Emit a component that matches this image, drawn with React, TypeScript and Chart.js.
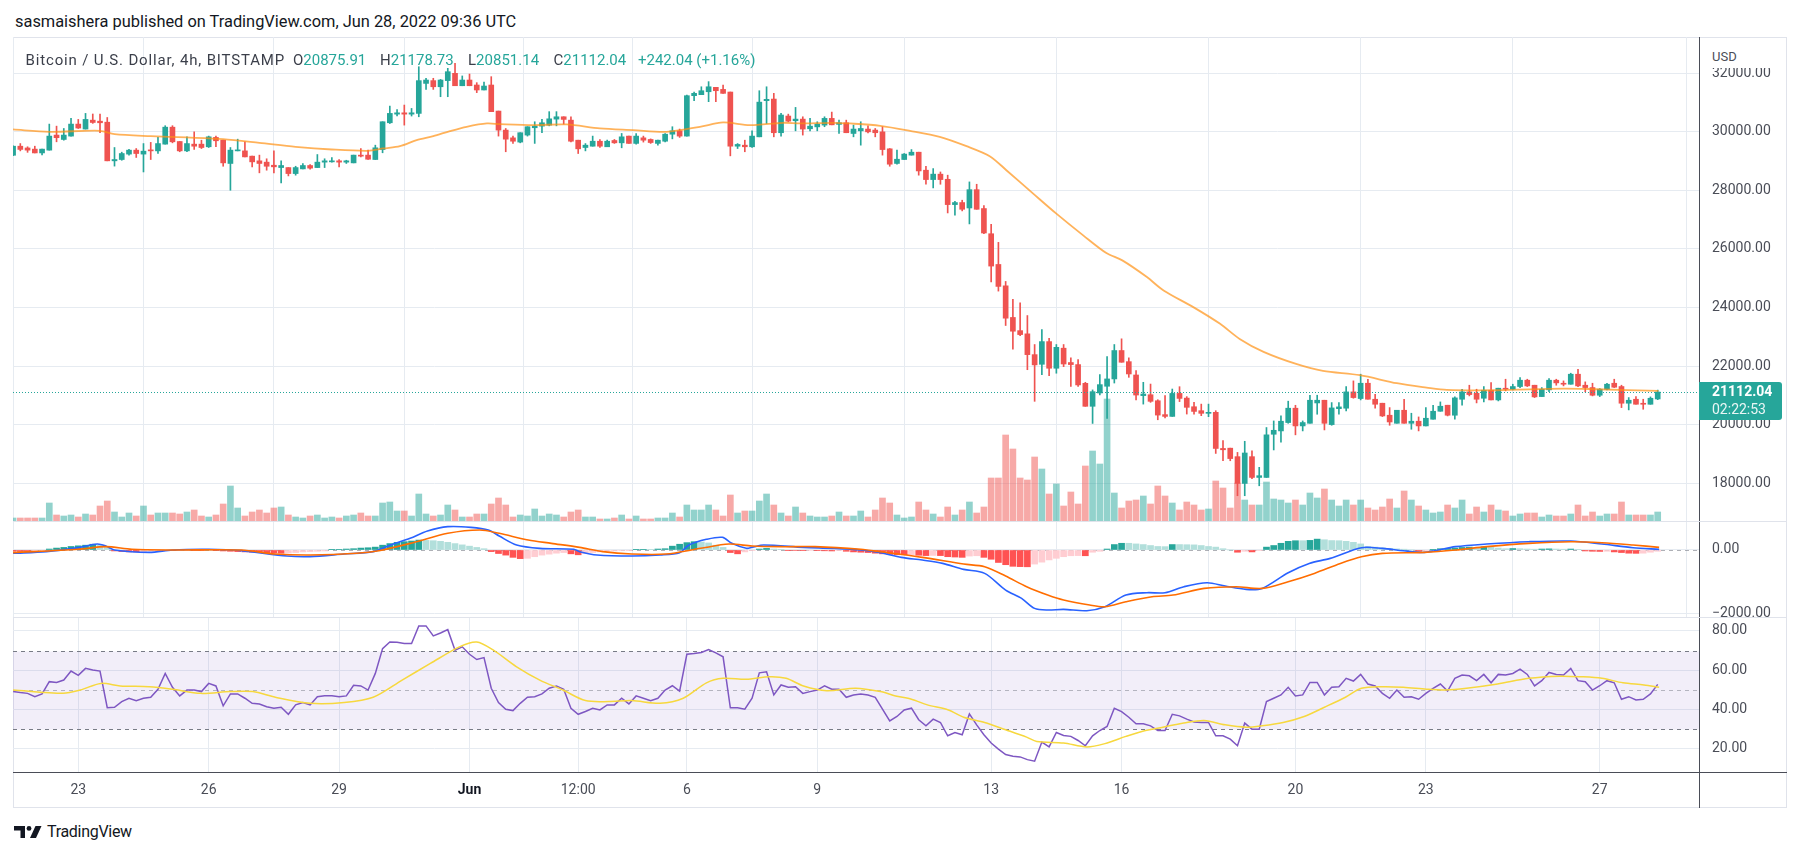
import React, { useEffect, useRef } from 'react';
import { Chart, registerables } from 'chart.js';

Chart.register(...registerables);

const FONT = 'Roboto, "Noto Sans", "DejaVu Sans", sans-serif';
const UP = '#26a69a';
const DOWN = '#ef5350';
const UP_VOL = 'rgba(38,166,154,0.5)';
const DOWN_VOL = 'rgba(239,83,80,0.5)';
const GRID = '#e6ebf1';
const FRAME = '#e0e3eb';
const AXIS_LINE = '#4a4d57';
const TEXT = '#4a4d57';

// ---------------- data ----------------
// 4h bars of BTC/USD (Bitstamp). Bar index 0 = 23 May 2022 00:00; first bar = 21 May 12:00
const START_INDEX = -9;

const xTickIdx = [0, 18, 36, 54, 69, 84, 102, 126, 144, 168, 186, 210];
const xTickLabels = ['23', '26', '29', 'Jun', '12:00', '6', '9', '13', '16', '20', '23', '27'];

const priceTicks = [18000, 20000, 22000, 24000, 26000, 28000, 30000, 32000];
const macdTicks = [0, -2000];
const rsiTicks = [20, 40, 60, 80];

const openArr = [
  29200, 29510, 29450, 29410, 29280, 29375, 29890, 29740, 29855, 30265,
  30095, 30400, 30365, 30330, 29010, 29055, 29240, 29375, 29240, 29375,
  29350, 29580, 30160, 29670, 29350, 29580, 29580, 29490, 29810, 29715,
  28920, 29350, 29350, 29170, 29010, 28965, 28860, 28780, 28780, 28575,
  28735, 28850, 28780, 28965, 28975, 29010, 28965, 28940, 29205, 29205,
  29055, 29395, 30310, 30605, 30650, 30605, 30630, 31655, 31750, 31540,
  31750, 32000, 31575, 31770, 31600, 31430, 31600, 30710, 30060, 29795,
  29650, 29890, 30140, 30195, 30230, 30435, 30515, 30400, 29715, 29465,
  29510, 29680, 29490, 29705, 29625, 29855, 29605, 29795, 29740, 29605,
  29680, 29920, 30035, 29855, 31235, 31270, 31370, 31520, 31450, 31360,
  29510, 29545, 29490, 29830, 31065, 31120, 29970, 30540, 30380, 30435,
  30105, 30170, 30230, 30460, 30255, 30310, 29945, 30035, 30095, 30060,
  30000, 29420, 28920, 29055, 29205, 29305, 28690, 28370, 28555, 28380,
  27515, 27585, 27400, 28025, 27380, 26520, 25470, 24740, 23660, 23210,
  23100, 22390, 22060, 22835, 21925, 22610, 22120, 22050, 21410, 20625,
  21080, 21310, 21560, 22530, 22150, 21695, 20990, 21020, 20815, 20340,
  20280, 21065, 20905, 20610, 20475, 20385, 20420, 19185, 19195, 18905,
  17990, 18905, 18195, 18195, 19670, 19784, 20070, 20560, 19955, 20045,
  20740, 20832, 20000, 20545, 20560, 21117, 20890, 21413, 20866, 20730,
  20320, 20045, 20490, 20045, 20115, 19955, 20183, 20456, 20662, 20320,
  20866, 21117, 21071, 20900, 21174, 20843, 21231, 21208, 21300, 21516,
  21345, 20957, 21186, 21516, 21413, 21379, 21721, 21345, 21265, 21003,
  21208, 21413, 21300, 20730, 20866, 20718, 20695, 20875.91,
];
const highArr = [
  29520, 29600, 29490, 29510, 29410, 30265, 30195, 30115, 30460, 30425,
  30630, 30610, 30610, 30490, 29465, 29305, 29400, 29430, 29600, 29640,
  29810, 30210, 30210, 29670, 29830, 30000, 29715, 29855, 29855, 29715,
  29465, 29750, 29660, 29170, 29205, 29080, 29350, 29010, 28780, 28825,
  28915, 28885, 29225, 29080, 29125, 29055, 29030, 29205, 29430, 29375,
  29545, 30345, 30880, 30765, 30915, 30800, 32225, 31830, 31830, 31790,
  32170, 32340, 31910, 31975, 31680, 31700, 31885, 30710, 30115, 29855,
  29970, 30175, 30345, 30425, 30690, 30690, 30515, 30515, 29715, 29600,
  29855, 29740, 29715, 29740, 29945, 29855, 29945, 29855, 29760, 29715,
  29945, 30175, 30095, 31260, 31360, 31540, 31715, 31520, 31600, 31360,
  29600, 29715, 30035, 31405, 31540, 31315, 30630, 30605, 30835, 30515,
  30460, 30345, 30515, 30675, 30400, 30400, 30230, 30345, 30205, 30115,
  30175, 29430, 29375, 29260, 29395, 29305, 28825, 28745, 28630, 28520,
  27630, 27665, 28290, 28210, 27480, 26840, 26225, 24890, 24275, 24160,
  23725, 22735, 23245, 22950, 22735, 22735, 22280, 22220, 21445, 21185,
  21705, 22320, 22735, 22930, 22280, 21845, 21445, 21385, 20850, 20990,
  21215, 21295, 20955, 20760, 20700, 20700, 20475, 19450, 19195, 19050,
  19430, 19100, 18540, 19900, 20125, 20300, 20800, 20660, 20125, 21003,
  21003, 20832, 20752, 20752, 21299, 21493, 21721, 21550, 21037, 20730,
  20581, 20490, 20866, 20388, 20262, 20581, 20661, 20775, 20661, 20946,
  21208, 21345, 21208, 21299, 21436, 21243, 21550, 21379, 21607, 21550,
  21345, 21265, 21573, 21550, 21493, 21755, 21892, 21459, 21413, 21231,
  21413, 21550, 21345, 20923, 20957, 20866, 20946, 21178.73,
];
const lowArr = [
  29190, 29350, 29300, 29280, 29215, 29375, 29660, 29715, 29855, 30115,
  30095, 30290, 29970, 29010, 28830, 29030, 29200, 29125, 28630, 29055,
  29260, 29580, 29625, 29320, 29320, 29400, 29430, 29465, 29490, 28825,
  28005, 29350, 29145, 28800, 28600, 28690, 28600, 28255, 28495, 28520,
  28735, 28725, 28780, 28780, 28965, 28805, 28920, 28940, 29145, 29055,
  29055, 29285, 30285, 30540, 30230, 30540, 30515, 31450, 31450, 31200,
  31200, 31575, 31575, 31575, 31340, 31430, 30690, 29855, 29320, 29605,
  29625, 29855, 29605, 29970, 30205, 30205, 30265, 29660, 29260, 29350,
  29510, 29465, 29490, 29605, 29455, 29605, 29580, 29650, 29605, 29545,
  29660, 29760, 29810, 29855, 31065, 31270, 31030, 31030, 31315, 29180,
  29430, 29320, 29465, 29830, 30285, 29830, 29855, 30345, 30035, 29890,
  30035, 30035, 30175, 30240, 29945, 29970, 29830, 29545, 29965, 29830,
  29205, 28825, 28895, 29055, 29205, 28520, 28210, 28085, 28210, 27230,
  27150, 27300, 26855, 27355, 26520, 24870, 24560, 23385, 22575, 23040,
  21875, 20795, 21705, 21675, 21755, 21980, 21305, 21305, 20625, 20040,
  21010, 20210, 21420, 22130, 21615, 20840, 20700, 20760, 20165, 20225,
  20280, 20785, 20360, 20360, 20305, 20270, 19015, 18765, 18765, 17570,
  17570, 18150, 17910, 18195, 19134, 19400, 20045, 19650, 19784, 20045,
  20354, 19818, 19977, 20354, 20467, 20900, 20843, 20866, 20559, 20274,
  19977, 20045, 20045, 19841, 19784, 19955, 20183, 20456, 20296, 20183,
  20661, 20980, 20741, 20775, 20843, 20809, 21151, 21185, 21265, 21299,
  20923, 20957, 21129, 21345, 21322, 21379, 21299, 21117, 20980, 20957,
  21185, 21265, 20581, 20502, 20695, 20524, 20695, 20851.14,
];
const closeArr = [
  29510, 29400, 29375, 29280, 29410, 29855, 29800, 29890, 30265, 30130,
  30425, 30320, 30310, 29010, 29055, 29260, 29375, 29260, 29340, 29350,
  29600, 30160, 29660, 29350, 29600, 29510, 29465, 29830, 29695, 28940,
  29375, 29375, 29145, 28975, 28920, 28825, 28805, 28850, 28575, 28780,
  28850, 28760, 28965, 29010, 29010, 28965, 29010, 29205, 29170, 29065,
  29455, 30345, 30630, 30650, 30605, 30650, 31750, 31770, 31540, 31770,
  32055, 31575, 31770, 31575, 31430, 31565, 30690, 30060, 29750, 29680,
  29970, 30175, 30195, 30310, 30445, 30515, 30425, 29680, 29420, 29545,
  29680, 29510, 29680, 29625, 29830, 29605, 29855, 29715, 29635, 29715,
  29920, 30035, 29855, 31235, 31315, 31405, 31540, 31405, 31315, 29510,
  29570, 29490, 29855, 31015, 31110, 29970, 30575, 30365, 30435, 30095,
  30195, 30265, 30460, 30240, 30310, 29970, 30095, 30115, 30000, 29970,
  29395, 28895, 29065, 29240, 29305, 28665, 28370, 28555, 28370, 27515,
  27585, 27355, 28025, 27355, 26545, 25415, 24720, 23635, 23190, 23075,
  22390, 22040, 22835, 21925, 22640, 22070, 22050, 21355, 20625, 21125,
  21365, 21560, 22530, 22130, 21730, 21010, 21045, 20795, 20325, 20280,
  21065, 20895, 20590, 20450, 20385, 20420, 19185, 19140, 18840, 17990,
  19030, 18195, 18255, 19650, 19806, 20115, 20560, 19955, 20070, 20832,
  20832, 20045, 20570, 20605, 21117, 20923, 21413, 20866, 20695, 20296,
  20090, 20490, 20045, 20115, 19955, 20217, 20456, 20627, 20320, 20912,
  21117, 21026, 20866, 21174, 20843, 21243, 21208, 21300, 21516, 21322,
  20946, 21208, 21516, 21425, 21379, 21721, 21322, 21265, 21003, 21208,
  21379, 21277, 20730, 20832, 20695, 20695, 20900, 21112.04,
];
const volumeArr = [
  300, 300, 300, 300, 300, 1800, 600, 500, 600, 400,
  700, 600, 1500, 2000, 900, 400, 800, 500, 1500, 600,
  800, 800, 800, 700, 900, 1100, 500, 400, 600, 1700,
  3500, 1300, 500, 900, 1100, 800, 1300, 1400, 600, 400,
  300, 500, 600, 300, 400, 300, 500, 600, 800, 500,
  500, 1800, 1900, 1000, 1000, 500, 2700, 700, 500, 600,
  1600, 1100, 400, 400, 700, 700, 1700, 2300, 1600, 400,
  600, 500, 1200, 500, 700, 600, 400, 900, 1100, 400,
  400, 200, 200, 300, 600, 200, 500, 200, 200, 300,
  300, 800, 400, 1600, 1100, 1100, 1600, 1100, 500, 2600,
  800, 1000, 1000, 2000, 2700, 1600, 800, 500, 1400, 800,
  500, 400, 400, 500, 900, 500, 500, 1000, 400, 1100,
  2300, 1800, 600, 300, 400, 1900, 1100, 700, 400, 1400,
  600, 1100, 1900, 800, 1400, 4300, 4300, 8600, 7200, 4300,
  4100, 6400, 5200, 2700, 3700, 1500, 2900, 1700, 5500, 7000,
  5700, 12200, 2800, 1300, 2000, 2100, 2500, 1700, 3500, 2500,
  1800, 1100, 1900, 1600, 1100, 1200, 4000, 3300, 1300, 3800,
  2100, 1600, 1600, 3900, 2200, 2100, 1800, 2100, 1600, 2800,
  2300, 3200, 2100, 1500, 2100, 1600, 2100, 1300, 1100, 1400,
  2200, 1300, 3000, 2100, 1500, 1100, 800, 900, 1600, 1300,
  2100, 700, 1400, 900, 1600, 1100, 1000, 500, 700, 800,
  800, 400, 600, 500, 500, 700, 1600, 500, 900, 500,
  700, 700, 1900, 600, 600, 600, 600, 900,
];

// moving average on price (read at sample bars)
const maIdx = [-9, -4, 3, 5, 10, 15, 20, 25, 30, 35, 40, 42.1, 44.4, 46.7, 49, 51.3, 53.6, 56.4, 58.2, 62.8, 67.4, 72, 76.6, 81.2, 85.8, 89, 92.7, 97.3, 99.6, 104.2, 106.5, 110.7, 114.8, 118.9, 122.6, 125.8, 128.1, 131.8, 135, 138.7, 141.9, 144.1, 147.5, 149.8, 153.9, 157.6, 160.3, 163.6, 168.2, 171.8, 176.9, 182, 186.1, 188.9, 195.8, 205, 209.6, 218.1];
const maVal = [30082, 30002, 30036, 29922, 29854, 29808, 29751, 29625, 29489, 29397, 29352, 29432, 29511, 29717, 29854, 30025, 30173, 30287, 30264, 30230, 30253, 30116, 30059, 30002, 30173, 30321, 30230, 30310, 30287, 30310, 30287, 30207, 30036, 29831, 29511, 29169, 28690, 27891, 27206, 26465, 25860, 25609, 25039, 24582, 24012, 23441, 22928, 22484, 22063, 21835, 21687, 21413, 21265, 21185, 21174, 21231, 21208, 21151];

// MACD (12, 26, 9)
const macdIdx = [-9, -4.4, 0, 2.6, 3.8, 5, 9.8, 13, 18, 22.5, 28.8, 32, 36.7, 40.7, 43.1, 45.8, 48.2, 51, 54.2, 56.6, 58.1, 60.5, 63.7, 68.4, 69.2, 71.6, 76.4, 80.3, 83, 84.3, 86.7, 88.9, 90.2, 92.2, 93, 94.6, 100.1, 104.1, 108, 110.7, 113.6, 116.5, 119.3, 122.2, 125.1, 128, 130.2, 132, 133.8, 136, 139.2, 141.7, 144.6, 147.5, 150, 152.6, 155.8, 158.3, 161.2, 163.4, 167, 169.9, 172.8, 177.1, 180, 182.9, 185.8, 190.1, 194.4, 200.2, 206, 210.3, 214.6, 218.2];
const macdVal = [-104, -52, 73, 188, 125, 0, -73, 0, 21, -21, -188, -208, -125, -52, 156, 365, 594, 729, 708, 625, 437, 156, 52, 21, -52, -156, -188, -156, -83, 156, 333, 396, 208, 52, 83, 156, 83, 52, 0, -85, -231, -315, -419, -606, -731, -1252, -1512, -1825, -1877, -1856, -1898, -1773, -1408, -1335, -1335, -1148, -1023, -1127, -1231, -1200, -710, -419, -262, 72, 51, -22, -74, 104, 187, 259, 280, 187, 72, 20];
const signalIdx = [-9, 0, 3.8, 7.4, 13, 22.5, 27.2, 32, 38.4, 41.5, 46.2, 51, 55.4, 58.1, 62.1, 65.3, 69.2, 72.4, 76.4, 81.1, 85.9, 89.8, 93, 97, 101.7, 108, 110.7, 116.5, 122.2, 125.1, 128, 130.9, 133.8, 136, 139.6, 141.7, 144.6, 148.2, 151.1, 155.4, 159.8, 163.4, 167, 170.6, 174.2, 177.1, 180, 185.8, 190.1, 194.4, 200.2, 206, 210.3, 214.6, 218.2];
const signalVal = [-83, 21, 104, 21, 0, 0, -125, -156, -104, -21, 229, 521, 625, 521, 312, 208, 83, -52, -125, -125, 52, 185, 125, 104, 104, 21, -54, -231, -440, -523, -815, -1148, -1408, -1564, -1720, -1773, -1617, -1460, -1408, -1200, -1148, -1200, -991, -731, -419, -210, -106, -74, -2, 104, 207, 259, 228, 156, 83];
const histArr = [
  -40, -45, -50, -40, -20, 30, 60, 80, 110, 130,
  150, 180, 150, 80, -30, -50, -60, -60, -50, -30,
  -20, -10, -15, -10, -5, -10, -10, 5, -10, -30,
  -40, -50, -60, -70, -80, -85, -90, -100, -95, -80,
  -60, -50, -40, -30, 10, 20, 30, 40, 60, 70,
  90, 150, 200, 240, 260, 280, 310, 300, 290, 270,
  240, 200, 160, 120, 80, 40, -50, -110, -160, -230,
  -270, -260, -210, -160, -130, -100, -80, -120, -150, -110,
  -80, -60, -40, -30, -20, -10, 10, 20, 20, 30,
  40, 120, 180, 230, 260, 250, 220, 150, 80, -80,
  -120, -60, -20, 30, 50, 30, 10, -10, -15, -20,
  -15, -20, -25, -30, -20, -40, -60, -70, -80, -100,
  -120, -140, -150, -150, -145, -165, -175, -170, -175, -210,
  -220, -230, -190, -180, -230, -290, -390, -460, -510, -520,
  -525, -440, -380, -310, -260, -210, -180, -175, -180, -70,
  -40, 30, 170, 210, 210, 190, 170, 140, 110, 105,
  170, 170, 165, 160, 140, 110, 90, 40, 0, -70,
  -40, -60, -20, 90, 140, 210, 270, 290, 290, 300,
  340, 320, 295, 290, 270, 240, 190, 110, 90, 70,
  45, 35, 25, 0, -40, -20, 10, 40, 50, 60,
  80, 90, 80, 100, 85, 60, 40, 45, 40, 30,
  25, 30, 35, 30, 25, 30, 20, -30, -40, -45,
  -40, -60, -80, -100, -105, -100, -70, -40,
];

// RSI (14) and its moving average
const rsiArr = [
  49.0, 48.5, 48.1, 46.4, 47.8, 54.1, 53.7, 54.9, 59.5, 57.3,
  60.9, 60.0, 59.5, 40.8, 41.0, 43.9, 45.6, 44.4, 45.6, 46.1,
  50.2, 58.3, 51.2, 46.8, 49.8, 49.8, 49.0, 53.2, 51.9, 41.7,
  47.8, 47.8, 45.6, 43.0, 42.7, 41.3, 40.5, 41.0, 37.4, 42.2,
  43.4, 42.2, 46.4, 46.9, 46.9, 46.4, 46.8, 52.2, 51.9, 49.8,
  58.3, 71.0, 74.4, 74.2, 73.6, 73.6, 82.6, 82.6, 77.5, 79.0,
  80.7, 70.2, 71.9, 68.1, 65.4, 66.4, 50.7, 43.4, 40.0, 39.3,
  43.0, 46.1, 46.4, 47.8, 50.7, 51.9, 50.2, 40.5, 37.4, 38.8,
  40.5, 39.6, 42.2, 42.2, 45.6, 42.7, 46.8, 45.6, 44.4, 45.6,
  49.8, 52.0, 49.2, 68.1, 68.5, 69.0, 70.5, 68.8, 66.8, 40.7,
  40.7, 40.0, 45.6, 58.6, 59.1, 47.3, 52.4, 51.2, 51.5, 48.1,
  49.0, 49.8, 51.9, 50.2, 50.2, 46.1, 47.3, 47.8, 47.3, 46.1,
  40.0, 34.0, 36.3, 39.6, 40.5, 34.6, 31.5, 34.9, 33.2, 26.4,
  28.1, 26.9, 37.6, 32.0, 26.9, 22.7, 19.6, 16.8, 15.9, 15.6,
  14.2, 13.4, 23.2, 20.7, 28.1, 26.6, 26.1, 24.0, 21.3, 26.4,
  29.1, 31.2, 40.5, 38.8, 35.9, 32.5, 32.5, 31.5, 29.1, 29.1,
  37.4, 36.6, 34.9, 33.5, 33.2, 33.2, 26.4, 26.4, 24.7, 21.3,
  32.9, 29.8, 29.8, 43.9, 45.6, 47.3, 51.2, 46.8, 47.3, 53.7,
  53.7, 47.3, 51.2, 51.5, 55.8, 54.4, 57.8, 52.9, 51.9, 48.1,
  45.6, 49.8, 46.1, 46.4, 45.1, 48.1, 50.7, 52.9, 49.3, 55.8,
  57.5, 57.1, 54.6, 57.8, 53.5, 57.8, 57.5, 58.3, 60.5, 57.8,
  51.9, 54.6, 58.8, 57.8, 57.5, 60.9, 54.6, 54.1, 49.8, 52.0,
  54.6, 53.5, 45.1, 46.4, 44.7, 45.1, 47.8, 52.7,
];
const rsiMaIdx = [-9, -2.1, 0.3, 3.1, 5.8, 9.8, 13, 16.9, 20.9, 24.1, 27.2, 32, 36.7, 40.7, 44.7, 48.6, 52.6, 55, 57.3, 60.5, 63.7, 66.9, 70, 73.2, 76.4, 80.3, 83.5, 86.7, 89, 92.2, 95.4, 97.7, 100.1, 103.3, 107.3, 110.7, 112.8, 115, 117.2, 120.1, 122.2, 125.1, 128, 130.9, 132.3, 136, 139.2, 141.7, 144.6, 146.8, 149.7, 152.6, 155.4, 158.3, 161.2, 163.4, 166.3, 169.2, 172, 174.9, 177.1, 180, 182.9, 186.1, 188.7, 191.6, 195.9, 200.2, 204.5, 207.4, 210.3, 213.2, 216.1, 218.2];
const rsiMaVal = [49.8, 48.1, 49.8, 53.2, 51.9, 51.5, 50.2, 48.1, 49.0, 49.0, 46.1, 43.0, 43.4, 46.1, 54.9, 63.4, 71.9, 74.4, 70.2, 61.7, 54.9, 49.8, 44.4, 43.9, 44.4, 43.0, 45.6, 53.5, 55.8, 55.3, 56.6, 55.8, 51.9, 49.5, 50.7, 49.0, 46.8, 45.1, 42.2, 39.6, 35.9, 33.2, 29.5, 25.7, 23.5, 22.7, 20.7, 22.4, 26.1, 28.6, 30.8, 32.9, 34.2, 32.0, 30.8, 31.5, 33.2, 36.3, 41.0, 46.1, 50.7, 51.5, 51.2, 50.2, 49.8, 50.7, 52.9, 55.8, 56.9, 56.6, 55.8, 53.5, 52.4, 51.2];

const lastClose = 21112.04;
const countdown = '02:22:53';

// ---------------- layout (style) ----------------
const W = 1801;
const PAD_L = 13;
const PAD_R = 14;
const AXIS_W = 88;
const X_MIN = -9.01;
const X_MAX = 223.7;

const barX = (k: number) => START_INDEX + k;
const pts = (xs: number[], ys: number[]) => xs.map((x, k) => ({ x, y: ys[k] }));

function xScale(showLabels: boolean) {
  return {
    type: 'linear',
    min: X_MIN,
    max: X_MAX,
    offset: false,
    grid: { color: GRID, drawTicks: false, lineWidth: 1 },
    border: { display: false },
    ticks: {
      display: showLabels,
      autoSkip: false,
      maxRotation: 0,
      minRotation: 0,
      padding: 10,
      color: (c: any) => (c.tick && c.tick.value === 54 ? '#131722' : TEXT),
      font: (c: any) => ({ family: FONT, size: 14, weight: c.tick && c.tick.value === 54 ? 'bold' : 'normal' }),
      callback: (v: any) => {
        const k = xTickIdx.indexOf(Number(v));
        return k >= 0 ? xTickLabels[k] : '';
      },
    },
    afterBuildTicks: (s: any) => {
      s.ticks = xTickIdx.map((v) => ({ value: v }));
    },
    afterFit: (s: any) => {
      s.height = showLabels ? 36 : 0;
      s.paddingLeft = 0;
      s.paddingRight = 0;
      s.paddingTop = 0;
      s.paddingBottom = 0;
    },
  };
}

function yScale(min: number, max: number, ticks: number[], fmt: (v: number) => string) {
  return {
    position: 'right',
    min,
    max,
    grid: { color: GRID, drawTicks: false, lineWidth: 1 },
    border: { display: true, color: AXIS_LINE, width: 1 },
    ticks: {
      padding: 13,
      color: TEXT,
      font: { family: FONT, size: 14 },
      callback: (v: any) => fmt(Number(v)),
    },
    afterBuildTicks: (s: any) => {
      s.ticks = ticks.map((v) => ({ value: v }));
    },
    afterFit: (s: any) => {
      s.width = AXIS_W;
      s.paddingTop = 0;
      s.paddingBottom = 0;
      s.paddingLeft = 0;
      s.paddingRight = 0;
    },
  };
}

const baseOptions = {
  animation: false,
  responsive: false,
  maintainAspectRatio: false,
  events: [],
  layout: { padding: { left: PAD_L, right: PAD_R, top: 0, bottom: 0 } },
  plugins: { legend: { display: false }, tooltip: { enabled: false } },
};

const lastPricePlugin = {
  id: 'lastPrice',
  afterDatasetsDraw(chart: any) {
    const { ctx, chartArea, scales } = chart;
    const y = Math.round(scales.y.getPixelForValue(lastClose)) + 0.5;
    ctx.save();
    ctx.strokeStyle = UP;
    ctx.lineWidth = 1;
    ctx.setLineDash([1, 2]);
    ctx.beginPath();
    ctx.moveTo(chartArea.left, y);
    ctx.lineTo(chartArea.right, y);
    ctx.stroke();
    ctx.restore();
  },
  afterDraw(chart: any) {
    const { ctx, chartArea, scales } = chart;
    const y = scales.y.getPixelForValue(lastClose);
    const x0 = chartArea.right;
    ctx.save();
    ctx.fillStyle = UP;
    ctx.beginPath();
    const top = y - 10;
    const h = 38;
    const w = 83;
    const r = 3;
    ctx.moveTo(x0, top);
    ctx.lineTo(x0 + w - r, top);
    ctx.quadraticCurveTo(x0 + w, top, x0 + w, top + r);
    ctx.lineTo(x0 + w, top + h - r);
    ctx.quadraticCurveTo(x0 + w, top + h, x0 + w - r, top + h);
    ctx.lineTo(x0, top + h);
    ctx.closePath();
    ctx.fill();
    ctx.fillStyle = '#ffffff';
    ctx.textBaseline = 'middle';
    ctx.textAlign = 'left';
    ctx.font = `bold 14px ${FONT}`;
    ctx.fillText(lastClose.toFixed(2), x0 + 13, y + 0.5);
    ctx.font = `14px ${FONT}`;
    ctx.fillStyle = 'rgba(255,255,255,0.9)';
    ctx.fillText(countdown, x0 + 13, y + 18.5);
    ctx.restore();
  },
};

const zeroLinePlugin = {
  id: 'zeroLine',
  beforeDatasetsDraw(chart: any) {
    const { ctx, chartArea, scales } = chart;
    const y = Math.round(scales.y.getPixelForValue(0)) + 0.5;
    ctx.save();
    ctx.strokeStyle = 'rgba(120,123,134,0.6)';
    ctx.lineWidth = 1;
    ctx.setLineDash([4, 4]);
    ctx.beginPath();
    ctx.moveTo(chartArea.left, y);
    ctx.lineTo(chartArea.right, y);
    ctx.stroke();
    ctx.restore();
  },
};

const rsiBandPlugin = {
  id: 'rsiBand',
  beforeDatasetsDraw(chart: any) {
    const { ctx, chartArea, scales } = chart;
    const y70 = Math.round(scales.y.getPixelForValue(70)) + 0.5;
    const y50 = Math.round(scales.y.getPixelForValue(50)) + 0.5;
    const y30 = Math.round(scales.y.getPixelForValue(30)) + 0.5;
    ctx.save();
    ctx.fillStyle = 'rgba(126,87,194,0.1)';
    ctx.fillRect(chartArea.left, y70, chartArea.width, y30 - y70);
    ctx.lineWidth = 1;
    ctx.setLineDash([4, 4]);
    ctx.strokeStyle = '#787b86';
    [y70, y30].forEach((y) => {
      ctx.beginPath();
      ctx.moveTo(chartArea.left, y);
      ctx.lineTo(chartArea.right, y);
      ctx.stroke();
    });
    ctx.strokeStyle = 'rgba(120,123,134,0.5)';
    ctx.beginPath();
    ctx.moveTo(chartArea.left, y50);
    ctx.lineTo(chartArea.right, y50);
    ctx.stroke();
    ctx.restore();
  },
};

function priceConfig(): any {
  const up = closeArr.map((c, k) => c >= openArr[k]);
  const colors = up.map((u) => (u ? UP : DOWN));
  const volColors = up.map((u) => (u ? UP_VOL : DOWN_VOL));
  return {
    type: 'bar',
    data: {
      datasets: [
        {
          type: 'line',
          data: pts(maIdx, maVal),
          yAxisID: 'y',
          borderColor: 'rgba(255,145,20,0.7)',
          borderWidth: 1.8,
          pointRadius: 0,
          tension: 0.3,
          order: 0,
        },
        {
          type: 'bar',
          data: openArr.map((o, k) => ({ x: barX(k), y: [o, closeArr[k]] })),
          yAxisID: 'y',
          backgroundColor: colors,
          barThickness: 5,
          minBarLength: 1,
          grouped: false,
          clip: 0,
          order: 1,
        },
        {
          type: 'bar',
          data: lowArr.map((l, k) => ({ x: barX(k), y: [l, highArr[k]] })),
          yAxisID: 'y',
          backgroundColor: colors,
          barThickness: 1,
          grouped: false,
          clip: 0,
          order: 2,
        },
        {
          type: 'bar',
          data: volumeArr.map((v, k) => ({ x: barX(k), y: v })),
          yAxisID: 'yVol',
          backgroundColor: volColors,
          barThickness: 6,
          grouped: false,
          clip: 0,
          order: 3,
        },
      ],
    },
    options: {
      ...baseOptions,
      scales: {
        x: xScale(false),
        y: yScale(16707, 33240, priceTicks, (v) => v.toFixed(2)),
        yVol: {
          display: false,
          min: 0,
          max: 48400,
          afterFit: (s: any) => {
            s.width = 0;
            s.paddingTop = 0;
            s.paddingBottom = 0;
          },
        },
      },
    },
    plugins: [lastPricePlugin],
  };
}

function macdConfig(): any {
  const histColors = histArr.map((h, k) => {
    const prev = k > 0 ? histArr[k - 1] : h;
    if (h >= 0) return prev < h ? '#26a69a' : '#b2dfdb';
    return prev < h ? '#ffcdd2' : '#ff5252';
  });
  return {
    type: 'bar',
    data: {
      datasets: [
        {
          type: 'line',
          data: pts(signalIdx, signalVal),
          borderColor: '#ff6d00',
          borderWidth: 1.6,
          pointRadius: 0,
          tension: 0.3,
          order: 0,
        },
        {
          type: 'line',
          data: pts(macdIdx, macdVal),
          borderColor: '#2962ff',
          borderWidth: 1.6,
          pointRadius: 0,
          tension: 0.3,
          order: 1,
        },
        {
          type: 'bar',
          data: histArr.map((h, k) => ({ x: barX(k), y: h })),
          backgroundColor: histColors,
          barThickness: 6,
          grouped: false,
          clip: 0,
          order: 2,
        },
      ],
    },
    options: {
      ...baseOptions,
      scales: {
        x: xScale(false),
        y: yScale(-2094, 906, macdTicks, (v) => (v < 0 ? '\u2212' + Math.abs(v).toFixed(2) : v.toFixed(2))),
      },
    },
    plugins: [zeroLinePlugin],
  };
}

function rsiConfig(): any {
  return {
    type: 'line',
    data: {
      datasets: [
        {
          data: pts(rsiMaIdx, rsiMaVal),
          borderColor: '#f7d83e',
          borderWidth: 1.5,
          pointRadius: 0,
          tension: 0.3,
          order: 0,
        },
        {
          data: rsiArr.map((v, k) => ({ x: barX(k), y: v })),
          borderColor: '#7e57c2',
          borderWidth: 1.5,
          pointRadius: 0,
          tension: 0,
          order: 1,
        },
      ],
    },
    options: {
      ...baseOptions,
      scales: {
        x: xScale(true),
        y: yScale(7.88, 87.16, rsiTicks, (v) => v.toFixed(2)),
      },
    },
    plugins: [rsiBandPlugin],
  };
}

const abs = (s: React.CSSProperties): React.CSSProperties => ({ position: 'absolute', ...s });

export default function App() {
  const priceRef = useRef<HTMLCanvasElement>(null);
  const macdRef = useRef<HTMLCanvasElement>(null);
  const rsiRef = useRef<HTMLCanvasElement>(null);

  useEffect(() => {
    Chart.defaults.font.family = FONT;
    const charts = [
      new Chart(priceRef.current as HTMLCanvasElement, priceConfig()),
      new Chart(macdRef.current as HTMLCanvasElement, macdConfig()),
      new Chart(rsiRef.current as HTMLCanvasElement, rsiConfig()),
    ];
    return () => charts.forEach((c) => c.destroy());
  }, []);

  const legendStyle: React.CSSProperties = { fontSize: 15, lineHeight: '20px', top: 50, whiteSpace: 'nowrap' };
  const val = { color: UP };

  return (
    <div style={abs({ left: 0, top: 0, width: W, height: 857, background: '#ffffff', fontFamily: FONT, overflow: 'hidden' })}>
      <div style={abs({ left: 15, top: 12, fontSize: 16.4, lineHeight: '20px', color: '#131722', whiteSpace: 'nowrap' })}>
        sasmaishera published on TradingView.com, Jun 28, 2022 09:36 UTC
      </div>
      <div style={abs({ left: 13, top: 37, width: 1774, height: 771, border: `1px solid ${FRAME}`, boxSizing: 'border-box' })} />
      <canvas ref={priceRef} width={W} height={484} style={abs({ left: 0, top: 37, width: W, height: 484 })} />
      <canvas ref={macdRef} width={W} height={96} style={abs({ left: 0, top: 521, width: W, height: 96 })} />
      <canvas ref={rsiRef} width={W} height={191} style={abs({ left: 0, top: 617, width: W, height: 191 })} />
      <div style={abs({ left: 13, top: 521, width: 1774, height: 1, background: FRAME })} />
      <div style={abs({ left: 13, top: 617, width: 1774, height: 1, background: FRAME })} />
      <div style={abs({ left: 13, top: 772, width: 1774, height: 1, background: AXIS_LINE })} />
      <div style={abs({ left: 1699, top: 772, width: 1, height: 36, background: AXIS_LINE })} />
      <div style={abs({ left: 1700, top: 45, width: 86, height: 23, background: '#ffffff', color: TEXT, fontSize: 13, lineHeight: '23px', paddingLeft: 12, boxSizing: 'border-box' })}>USD</div>
      <div style={abs({ ...legendStyle, left: 25.5, color: '#3b3f4a', letterSpacing: 0.85 })}>Bitcoin / U.S. Dollar, 4h, BITSTAMP</div>
      <div style={abs({ ...legendStyle, left: 293, color: '#3b3f4a' })}>O<span style={val}>20875.91</span></div>
      <div style={abs({ ...legendStyle, left: 380, color: '#3b3f4a' })}>H<span style={val}>21178.73</span></div>
      <div style={abs({ ...legendStyle, left: 468, color: '#3b3f4a' })}>L<span style={val}>20851.14</span></div>
      <div style={abs({ ...legendStyle, left: 553.5, color: '#3b3f4a' })}>C<span style={val}>21112.04</span></div>
      <div style={abs({ ...legendStyle, left: 638, color: UP })}>+242.04 (+1.16%)</div>
      <svg style={abs({ left: 14, top: 826, width: 30, height: 12 })} viewBox="0 0 30 12">
        <path d="M0 0 H11 V12 H6.5 V4.5 H0 Z" fill="#131722" />
        <circle cx="15" cy="2.4" r="2.4" fill="#131722" />
        <path d="M21.5 0 H27.5 L22 12 H16 Z" fill="#131722" />
      </svg>
      <div style={abs({ left: 47, top: 822, fontSize: 16, lineHeight: '20px', color: '#131722', letterSpacing: -0.3 })}>TradingView</div>
    </div>
  );
}
